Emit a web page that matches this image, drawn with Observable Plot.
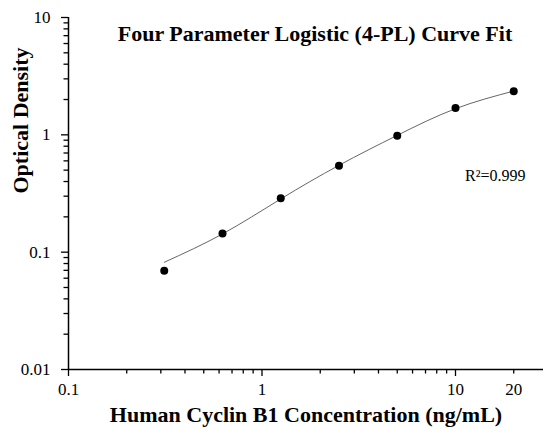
<!DOCTYPE html>
<html><head><meta charset="utf-8">
<script src="https://cdn.jsdelivr.net/npm/d3@7"></script>
<script src="https://cdn.jsdelivr.net/npm/@observablehq/plot@0.6"></script>
<style>body{margin:0;background:#fff}</style>
</head><body><div id="chart"></div>
<script>
const concentration = [0.3125, 0.625, 1.25, 2.5, 5, 10, 20];
const opticalDensity = [0.0695, 0.144, 0.288, 0.545, 0.98, 1.69, 2.35];
const curveConcentration = [0.3125, 0.625, 1.25, 2.5, 5, 10, 20];
const curveDensity = [0.082, 0.143, 0.284, 0.55, 0.99, 1.67, 2.36];
const xTicks = [0.1, 1, 10];
const xLabels = [0.1, 1, 10, 20];
const xMinor = [0.2, 0.3, 0.4, 0.5, 0.6, 0.7, 0.8, 0.9, 2, 3, 4, 5, 6, 7, 8, 9, 20];
const yTicks = [0.01, 0.1, 1, 10];
const yMinor = [0.02, 0.03, 0.04, 0.05, 0.06, 0.07, 0.08, 0.09, 0.2, 0.3, 0.4, 0.5, 0.6, 0.7, 0.8, 0.9, 2, 3, 4, 5, 6, 7, 8, 9];
const title = "Four Parameter Logistic (4-PL) Curve Fit";
const xLabel = "Human Cyclin B1 Concentration (ng/mL)";
const yLabel = "Optical Density";
const r2Label = "R\u00B2=0.999";

const points = concentration.map((c, i) => ({c, od: opticalDensity[i]}));
const curve = curveConcentration.map((c, i) => ({c, od: curveDensity[i]}));

const chart = Plot.plot({
  width: 543, height: 430,
  marginLeft: 68, marginRight: 0, marginTop: 17, marginBottom: 61,
  style: {fontFamily: "'Liberation Serif', 'Times New Roman', serif", fontSize: "17px", color: "#000", background: "#fff"},
  x: {type: "log", domain: [0.1, 28.5]},
  y: {type: "log", domain: [0.01, 10]},
  marks: [
    Plot.axisX({ticks: xTicks, tickSize: 7, tickFormat: () => "", strokeWidth: 1.3, strokeOpacity: 1, label: null}),
    Plot.axisX({ticks: xMinor, tickSize: 4.5, tickFormat: () => "", strokeWidth: 1.3, strokeOpacity: 1, label: null}),
    Plot.axisX({ticks: xLabels, tickSize: 0, tickPadding: 13, tickFormat: d => String(d), fontSize: 17, fill: "#000", label: null}),
    Plot.axisY({ticks: yTicks, tickSize: 7, tickPadding: 11, tickFormat: d => String(d), strokeWidth: 1.3, strokeOpacity: 1, fontSize: 17, fill: "#000", label: null}),
    Plot.axisY({ticks: yMinor, tickSize: 4.5, tickFormat: () => "", strokeWidth: 1.3, strokeOpacity: 1, label: null}),
    Plot.ruleY([0.01], {stroke: "#000", strokeWidth: 1.5}),
    Plot.ruleX([0.1], {stroke: "#000", strokeWidth: 1.5}),
    Plot.line(curve, {x: "c", y: "od", curve: "natural", stroke: "#666", strokeWidth: 1}),
    Plot.dot(points, {x: "c", y: "od", r: 4, fill: "#000", stroke: "none"}),
    Plot.text([title], {text: d => d, frameAnchor: "top", dx: 9, dy: 8, fontSize: 22, fontWeight: "bold", fill: "#000"}),
    Plot.text([r2Label], {text: d => d, frameAnchor: "top-right", textAnchor: "end", dx: -18, dy: 152, fontSize: 16, fill: "#000"}),
    Plot.text([xLabel], {text: d => d, frameAnchor: "bottom", dy: 52, fontSize: 22, fontWeight: "bold", fill: "#000"}),
    Plot.text([yLabel], {text: d => d, frameAnchor: "left", dx: -48, rotate: -90, fontSize: 22, fontWeight: "bold", fill: "#000"})
  ]
});
document.getElementById("chart").appendChild(chart);
</script>
</body></html>
